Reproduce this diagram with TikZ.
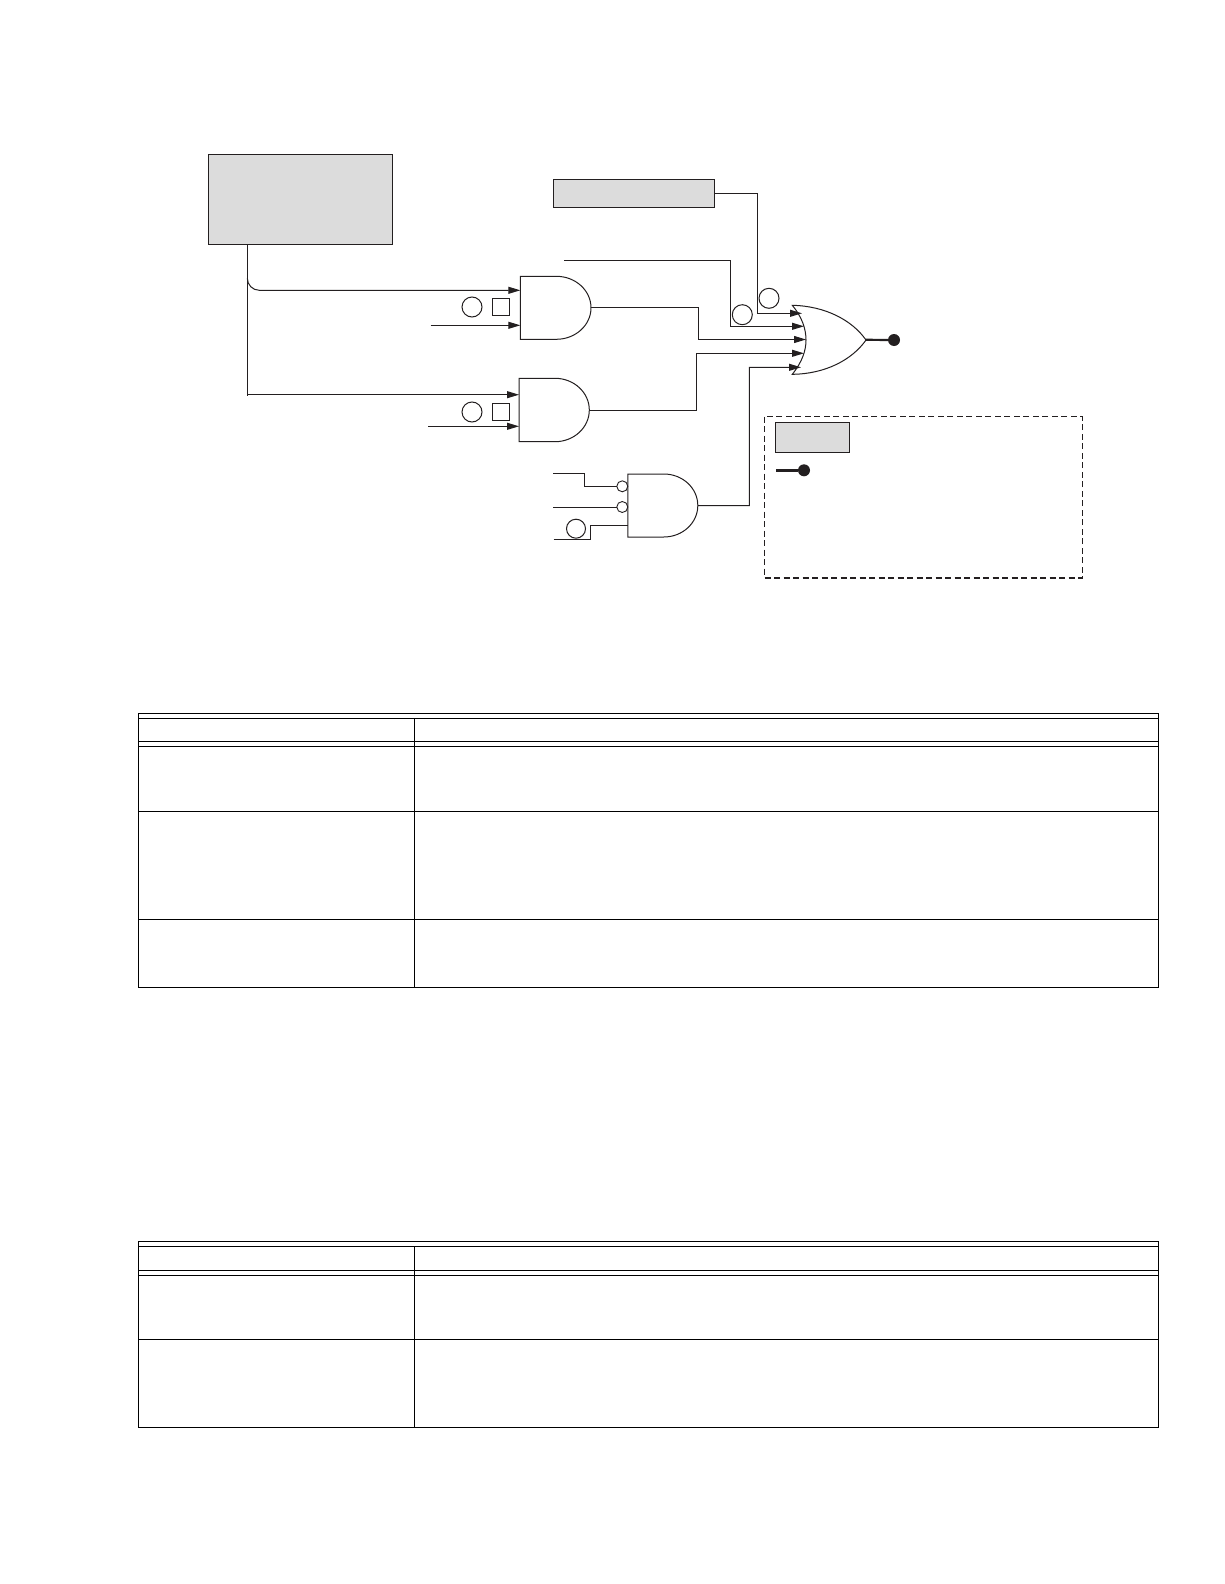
\documentclass[tikz,border=0pt]{standalone}
\usetikzlibrary{arrows.meta,calc}
\definecolor{ink}{HTML}{231F20}
\definecolor{panel}{HTML}{DCDCDC}
\tikzset{
  wire/.style={draw=ink,line width=1pt},
  feed/.style={wire,-{Triangle[length=12pt,width=7pt]}},
  panelbox/.style={draw=ink,line width=0.9pt,fill=panel,rectangle,inner sep=0pt,outer sep=0pt},
  gatebox/.style={rectangle,inner sep=0pt,outer sep=0pt},
  ring/.style={draw=ink,line width=1pt,circle,fill=white,inner sep=0pt,outer sep=0pt,minimum size=20pt},
  tag/.style={draw=ink,line width=1pt,rectangle,inner sep=0pt,outer sep=0pt,minimum size=17pt},
  bubble/.style={draw=ink,line width=0.9pt,circle,fill=white,inner sep=0pt,outer sep=0pt,minimum size=11pt},
  dot/.style={circle,fill=ink,inner sep=0pt,outer sep=0pt,minimum size=12pt},
  rule/.style={draw=black,line width=1pt}
}
\newcommand{\andgate}[6]{% name, left, top, flat, xr, yr
  \node[gatebox,minimum width=#4 pt+#5 pt,minimum height=2*#6 pt,anchor=north west] (#1) at (#2,#3) {};
  \draw[wire] (#1.south west) -- (#1.north west) -- ++(#4,0)
    arc[start angle=90,end angle=-90,x radius=#5 pt,y radius=#6 pt] -- cycle;
}
\begin{document}
\begin{tikzpicture}[x=1pt,y=-1pt]
\useasboundingbox (0,0) rectangle (1224,1584);
% source boxes
\node[panelbox,minimum width=184pt,minimum height=90pt,anchor=north west] (src) at (208.3,154.3) {};
\node[panelbox,minimum width=161.4pt,minimum height=28pt,anchor=north west] (flag) at (553.3,179.3) {};
% gates
\andgate{andA}{520.3}{276.3}{36}{34.7}{31.5}
\andgate{andB}{519}{378.3}{36}{34.3}{31.7}
\andgate{andC}{627.8}{474}{36}{34}{31.5}
\draw[wire,fill=white] (792.3,305.3) .. controls (825,306) and (852,320) .. (866,340)
  .. controls (852,360) and (825,374) .. (792.3,374.3)
  .. controls (802,362) and (806,351) .. (806,340)
  .. controls (806,329) and (802,317) .. (792.3,305.3) -- cycle;
\node[gatebox,minimum width=73.7pt,minimum height=69pt,anchor=north west] (orG) at (792.3,305.3) {};
% free ends
\coordinate (tap) at (247.3,395.6);
\coordinate (bendA) at (247.3,278.3);
\coordinate (inA) at (430.7,325.3);
\coordinate (inB) at (428.3,426.3);
\coordinate (inR) at (564.3,260.3);
\coordinate (inC1) at (553,473);
\coordinate (inC2) at (553,507);
\coordinate (inC3) at (553.5,539.3);
\coordinate (or1) at (802,313.3);
\coordinate (or2) at (804,326.3);
\coordinate (or3) at (806,339.5);
\coordinate (or4) at (804,353.3);
\coordinate (or5) at (801,367.3);
\coordinate (pinAu) at (520.3,290.3);
\coordinate (pinAl) at (520.3,325.3);
\coordinate (pinBu) at (519,394.7);
\coordinate (pinBl) at (519,426.3);
% connectors
\draw[wire] ($(src.south west)+(39,0)$) -- (tap);
\draw[feed] (bendA) arc[start angle=180,end angle=270,x radius=12pt,y radius=12pt] -- (pinAu);
\draw[feed] (247.3,394.7) -- (pinBu);
\draw[feed] (inA) -- (pinAl);
\draw[feed] (inB) -- (pinBl);
\draw[feed] (flag.east) -- (757.3,193.3) -- (757.3,313.3) -- (or1);
\draw[feed] (inR) -- (730,260.3) -- (730,326.3) -- (or2);
\draw[feed] (andA.east) -- (698.3,307.8) -- (698.3,339.5) -- (or3);
\draw[feed] (andB.east) -- (696.3,410) -- (696.3,353.3) -- (or4);
\draw[feed] (andC.east) -- (749.3,505.7) -- (749.3,367.3) -- (or5);
\node[ring] (q1) at (769,298.3) {};
\node[ring] (q2) at (742.3,314.7) {};
\node[ring] (q3) at (472,307) {};
\node[ring] (q4) at (472,412) {};
\node[tag] (t1) at (500.5,307.2) {};
\node[tag] (t2) at (500.5,412) {};
% gate C inputs
\node[bubble] (nC1) at (622.3,486.3) {};
\node[bubble] (nC2) at (622.3,507) {};
\draw[wire] (inC1) -- (584.3,473) -- (584.3,486.3) -- (nC1.west);
\draw[wire] (inC2) -- (nC2.west);
\draw[wire] (inC3) -- (590.3,539.3) -- (590.3,525.3) -- (627.8,525.3);
\node[ring,minimum size=19pt] (q5) at (576,528.7) {};
% output
\node[dot] (out) at (894,340) {};
\draw[draw=ink,line width=2.2pt] (orG.east) -- (out);
% legend
\draw[draw=ink,line width=1.2pt,dash pattern=on 6pt off 3.5pt] (764.3,416.7) rectangle (1082.2,578);
\node[panelbox,minimum width=74pt,minimum height=30pt,anchor=north west] (legendbox) at (775,422.3) {};
\node[dot] (legenddot) at (804,470.3) {};
\coordinate (legendstart) at (776,470.3);
\draw[draw=ink,line width=2.6pt] (legendstart) -- (legenddot);
% table one
\draw[rule] (138.3,713.3) rectangle (1158.9,987);
\foreach \yy in {718.3,741.3,746.3,811.3,919.5}
  \draw[rule] (138.3,\yy) -- (1158.9,\yy);
\draw[rule] (414.7,718.3) -- (414.7,987);
% table two
\draw[rule] (138.3,1241.8) rectangle (1158.9,1427.7);
\foreach \yy in {1246.8,1270,1275,1339.8}
  \draw[rule] (138.3,\yy) -- (1158.9,\yy);
\draw[rule] (414.7,1246.8) -- (414.7,1427.7);
\end{tikzpicture}
\end{document}
